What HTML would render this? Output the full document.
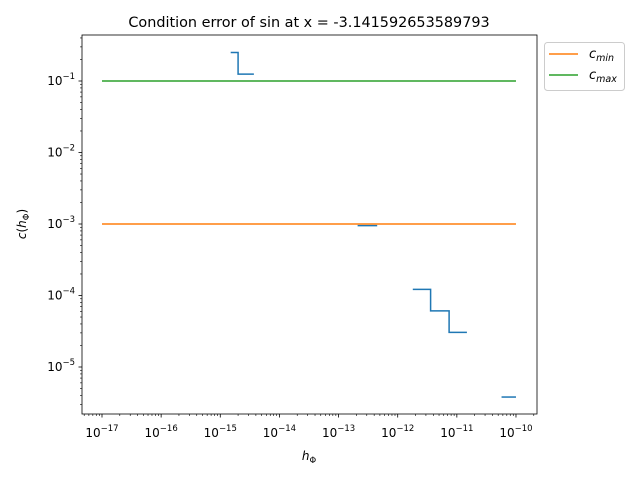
<!DOCTYPE html>
<html><head><meta charset="utf-8"><style>
body{margin:0;background:#fff}
svg{display:block;font-family:"DejaVu Sans","Liberation Sans",sans-serif}
</style></head><body>
<svg id="chart" width="640" height="480" xmlns="http://www.w3.org/2000/svg">
<text x="309" y="27" text-anchor="middle" font-size="14.4">Condition error of sin at x = -3.141592653589793</text>
<g id="plot"></g>
<rect x="82" y="35" width="455" height="379" fill="none" stroke="#000" stroke-width="0.8"/>
<text x="309" y="460" text-anchor="middle" font-size="12" font-style="italic">h<tspan font-size="8.5" dy="3" font-style="normal">Φ</tspan></text>
<text transform="translate(26,224) rotate(-90)" text-anchor="middle" font-size="12"><tspan font-style="italic">c</tspan>(<tspan font-style="italic">h</tspan><tspan font-size="8.5" dy="3">Φ</tspan><tspan dy="-3">)</tspan></text>
<g>
<rect x="544.5" y="42.5" width="80" height="48" rx="3" fill="#fff" stroke="#ccc"/>
<line x1="549" y1="54" x2="578" y2="54" stroke="#ff7f0e" stroke-width="1.5"/>
<text x="589" y="58" font-size="13" font-style="italic">c<tspan font-size="9.5" dy="3">min</tspan></text>
<line x1="549" y1="75" x2="578" y2="75" stroke="#2ca02c" stroke-width="1.5"/>
<text x="589" y="79" font-size="13" font-style="italic">c<tspan font-size="9.5" dy="3">max</tspan></text>
</g>
</svg>
<script>
const xDecades=[-17,-16,-15,-14,-13,-12,-11,-10];
const yDecades=[-5,-4,-3,-2,-1];
const cMin=1e-3, cMax=1e-1;
const hRange=[1e-17,1e-10];
const seg1X=[1.5e-15,2e-15,3.7e-15]; const seg1Y=[0.25,0.125,0.125];
const seg2X=[2.1e-13,4.5e-13]; const seg2Y=[9.5e-4,9.5e-4];
const seg3X=[1.8e-12,3.6e-12,7.4e-12,1.48e-11]; const seg3Y=[1.22e-4,6.1e-5,3.05e-5,3.05e-5];
const seg4X=[5.7e-11,1.0e-10]; const seg4Y=[3.8e-6,3.8e-6];
const NS="http://www.w3.org/2000/svg";
const sx=v=>102+(Math.log10(v)+17)*59.14;
const sy=v=>81+(-1-Math.log10(v))*71.5;
const g=document.getElementById('plot');
function mk(t,a){const e=document.createElementNS(NS,t);for(const k in a)e.setAttribute(k,a[k]);g.appendChild(e);return e;}
xDecades.forEach(d=>{
 const x=sx(Math.pow(10,d));
 const t=mk('line',{x1:x,x2:x,y1:414,y2:417.5,stroke:'#000','stroke-width':0.8});
 
 
 const l=mk('text',{x:x,y:437,'text-anchor':'middle','font-size':12});
 
 
 l.innerHTML='10<tspan font-size="8.5" dy="-6">'+(d<0?'−':'')+Math.abs(d)+'</tspan>';
});
for(let d=-18;d<=-10;d++)for(let m=2;m<=9;m++){
 const v=m*Math.pow(10,d);const x=sx(v);if(x<82||x>537)continue;
 const t=mk('line',{x1:x,x2:x,y1:414,y2:416,stroke:'#000','stroke-width':0.6});
 
 
}
yDecades.forEach(d=>{
 const y=sy(Math.pow(10,d));
 const t=mk('line',{x1:78.5,x2:82,y1:y,y2:y,stroke:'#000','stroke-width':0.8});
 
 
 const l=mk('text',{x:75,y:y+4,'text-anchor':'end','font-size':12});
 
 
 l.innerHTML='10<tspan font-size="8.5" dy="-6">−'+Math.abs(d)+'</tspan>';
});
for(let d=-6;d<=0;d++)for(let m=2;m<=9;m++){
 const v=m*Math.pow(10,d);const y=sy(v);if(y<35||y>414)continue;
 const t=mk('line',{x1:80,x2:82,y1:y,y2:y,stroke:'#000','stroke-width':0.6});
 
 
}
function steps(xs,ys){let p='M'+sx(xs[0])+','+sy(ys[0]);for(let i=1;i<xs.length;i++){p+=' H'+sx(xs[i])+' V'+sy(ys[i]);}return p;}
[[seg1X,seg1Y],[seg2X,seg2Y],[seg3X,seg3Y],[seg4X,seg4Y]].forEach((s,i)=>{
 const p=mk('path',{d:steps(s[0],s[1]),fill:'none',stroke:'#1f77b4','stroke-width':1.5});
 
 
});
const lmin=mk('line',{x1:sx(hRange[0]),x2:sx(hRange[1]),y1:sy(cMin),y2:sy(cMin),stroke:'#ff7f0e','stroke-width':1.5});


const lmax=mk('line',{x1:sx(hRange[0]),x2:sx(hRange[1]),y1:sy(cMax),y2:sy(cMax),stroke:'#2ca02c','stroke-width':1.5});


</script>
</body></html>
